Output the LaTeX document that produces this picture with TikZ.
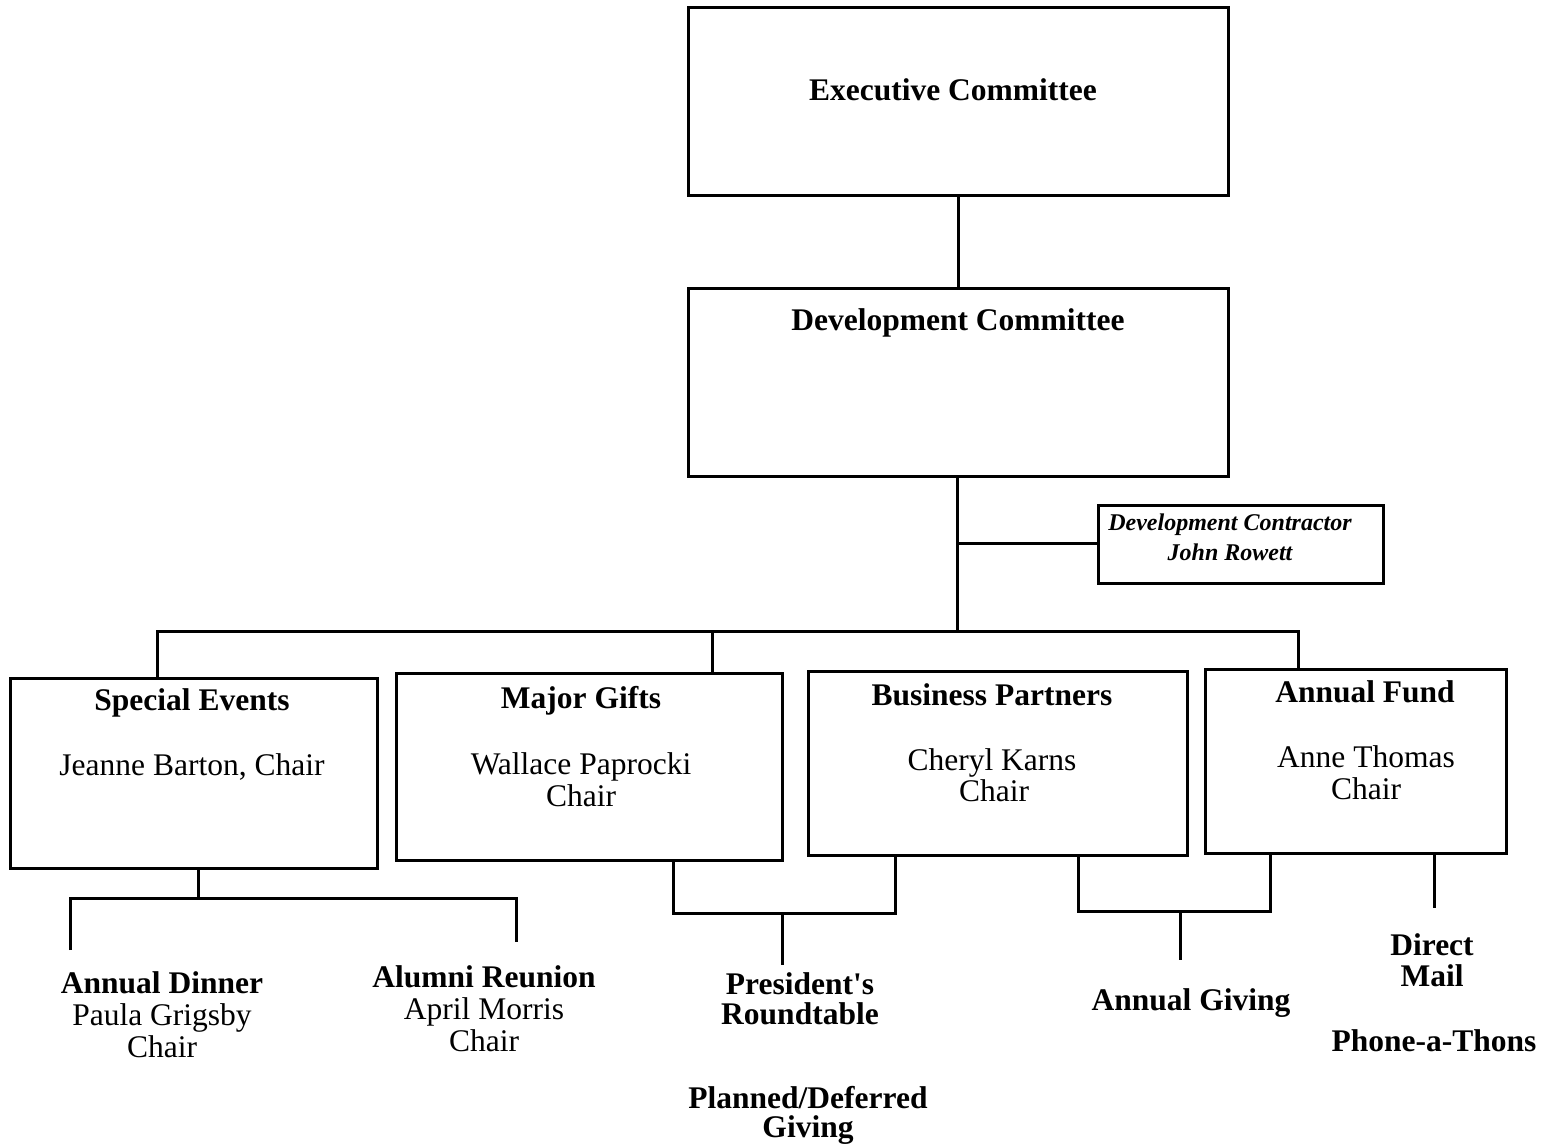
\documentclass[tikz,border=0pt]{standalone}
\usepackage{fontspec}
\setmainfont{Liberation Serif}
\begin{document}
\begin{tikzpicture}[x=1pt,y=-1pt,
  box/.style={draw, line width=3pt, inner sep=0pt},
  conn/.style={line width=3pt},
  ttl/.style={font=\fontsize{31.5}{32}\selectfont\bfseries, inner sep=0pt, anchor=base},
  nme/.style={font=\fontsize{31.5}{32}\selectfont, inner sep=0pt, anchor=base},
  ctr/.style={font=\fontsize{24}{29}\selectfont\bfseries\itshape, inner sep=0pt, anchor=base}]
\useasboundingbox (0,0) rectangle (1544,1145);
% boxes
\node[box, minimum width=540pt, minimum height=187pt] (ec) at (958,101.5) {};
\node[box, minimum width=540pt, minimum height=188pt] (dc) at (958,382) {};
\node[box, minimum width=285pt, minimum height=78pt] (dcon) at (1240.5,544) {};
\node[box, minimum width=367pt, minimum height=190pt] (se) at (193.5,773) {};
\node[box, minimum width=386pt, minimum height=187pt] (mg) at (589,766.5) {};
\node[box, minimum width=379pt, minimum height=184pt] (bp) at (997.5,763) {};
\node[box, minimum width=301pt, minimum height=184pt] (af) at (1355.5,761) {};
% texts
\node[ttl] (ect) at (953,101) {Executive Committee};
\node[ttl] (dct) at (958,330) {Development Committee};
\node[ctr] (dcon1) at (1230,530) {Development Contractor};
\node[ctr] (dcon2) at (1230,560) {John Rowett};
\node[ttl] (set) at (192,710) {Special Events};
\node[nme] (sen) at (192,775) {Jeanne Barton, Chair};
\node[ttl] (mgt) at (581,708) {Major Gifts};
\node[nme] (mgn) at (581,774) {Wallace Paprocki};
\node[nme] (mgc) at (581,806) {Chair};
\node[ttl] (bpt) at (992,705) {Business Partners};
\node[nme] (bpn) at (992,770) {Cheryl Karns};
\node[nme] (bpc) at (994,801) {Chair};
\node[ttl] (aft) at (1365,702) {Annual Fund};
\node[nme] (afn) at (1366,767) {Anne Thomas};
\node[nme] (afc) at (1366,799) {Chair};
\node[ttl] (ad) at (162,993) {Annual Dinner};
\node[nme] (adn) at (162,1025) {Paula Grigsby};
\node[nme] (adc) at (162,1057) {Chair};
\node[ttl] (ar) at (484,987) {Alumni Reunion};
\node[nme] (arn) at (484,1019) {April Morris};
\node[nme] (arc) at (484,1051) {Chair};
\node[ttl] (pr1) at (800,994) {President\textquotesingle s};
\node[ttl] (pr2) at (800,1024) {Roundtable};
\node[ttl] (pd1) at (808,1108) {Planned/Deferred};
\node[ttl] (pd2) at (808,1137) {Giving};
\node[ttl] (ag) at (1191,1010) {Annual Giving};
\node[ttl] (dm1) at (1432,955) {Direct};
\node[ttl] (dm2) at (1432,986) {Mail};
\node[ttl] (pt) at (1434,1051) {Phone-a-Thons};
% coordinates
\coordinate (j1) at (957,543);
\coordinate (j2) at (957,631);
\coordinate (b1) at (157,631);
\coordinate (b2) at (712,631);
\coordinate (b4) at (1298,631);
\coordinate (s0) at (198,898);
\coordinate (s1) at (70,898);
\coordinate (s2) at (516,898);
\coordinate (s1e) at (70,950);
\coordinate (s2e) at (516,942);
\coordinate (m1) at (673,913);
\coordinate (m2) at (895,913);
\coordinate (m3) at (782,913);
\coordinate (m3e) at (782,965);
\coordinate (g1) at (1078,911);
\coordinate (g2) at (1270,911);
\coordinate (g3) at (1180,911);
\coordinate (g3e) at (1180,960);
\coordinate (d1e) at (1434,908);
% connectors
\draw[conn] (ec.south) -- (dc.north);
\draw[conn] (dc.south -| j2) -- (j2);
\draw[conn] (j1) -- (dcon.west |- j1);
\draw[conn] (b1 |- se.north) -- (b1) -- (b4) -- (b4 |- af.north);
\draw[conn] (b2) -- (b2 |- mg.north);
\draw[conn] (se.south -| s0) -- (s0);
\draw[conn] (s1e) -- (s1) -- (s2) -- (s2e);
\draw[conn] (mg.south -| m1) -- (m1) -- (m2) -- (bp.south -| m2);
\draw[conn] (m3) -- (m3e);
\draw[conn] (bp.south -| g1) -- (g1) -- (g2) -- (af.south -| g2);
\draw[conn] (g3) -- (g3e);
\draw[conn] (af.south -| d1e) -- (d1e);
\end{tikzpicture}
\end{document}
